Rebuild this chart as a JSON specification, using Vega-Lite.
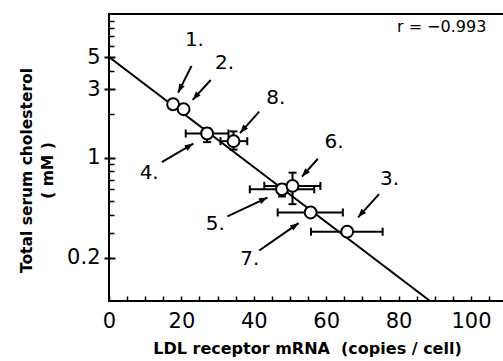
{
  "$schema": "https://vega.github.io/schema/vega-lite/v6.json",
  "width": 396,
  "height": 287,
  "autosize": {"type": "none"},
  "padding": {"left": 109, "top": 14, "right": 0, "bottom": 60},
  "background": "white",
  "config": {
    "view": {"stroke": "black", "strokeWidth": 2},
    "axis": {"domainColor": "black", "domainWidth": 2, "tickColor": "black", "tickWidth": 2, "labelColor": "black", "titleColor": "black", "labelFont": "DejaVu Sans", "titleFont": "DejaVu Sans", "grid": false}
  },
  "datasets": {
    "pts": [
      {"id": 1, "mrna": 17.7, "chol": 2.35},
      {"id": 2, "mrna": 20.6, "chol": 2.17},
      {"id": 3, "mrna": 65.8, "chol": 0.304},
      {"id": 4, "mrna": 27.1, "chol": 1.47},
      {"id": 5, "mrna": 47.8, "chol": 0.6},
      {"id": 6, "mrna": 50.7, "chol": 0.634},
      {"id": 7, "mrna": 55.7, "chol": 0.414},
      {"id": 8, "mrna": 34.4, "chol": 1.3}
    ],
    "xerr": [
      {"id": 3, "chol": 0.304, "lo": 55.8, "hi": 75.6},
      {"id": 4, "chol": 1.47, "lo": 21.2, "hi": 33.0},
      {"id": 5, "chol": 0.6, "lo": 38.9, "hi": 56.7},
      {"id": 6, "chol": 0.634, "lo": 42.9, "hi": 58.4},
      {"id": 7, "chol": 0.414, "lo": 46.6, "hi": 64.6},
      {"id": 8, "chol": 1.3, "lo": 30.8, "hi": 38.2}
    ],
    "yerr": [
      {"id": 4, "mrna": 27.1, "lo": 1.28, "hi": 1.6},
      {"id": 5, "mrna": 47.8, "lo": 0.535, "hi": 0.65},
      {"id": 6, "mrna": 50.7, "lo": 0.473, "hi": 0.784},
      {"id": 8, "mrna": 34.4, "lo": 1.135, "hi": 1.52}
    ],
    "fit": [
      {"x": 0, "y": 5.02},
      {"x": 88.7, "y": 0.1}
    ],
    "arrows": [
      {"id": 1, "x1": 22.8, "y1": 4.35, "x2": 19.1, "y2": 2.83, "dir": 206},
      {"id": 2, "x1": 28.1, "y1": 3.47, "x2": 23.1, "y2": 2.52, "dir": 221},
      {"id": 8, "x1": 41.5, "y1": 2.09, "x2": 36.2, "y2": 1.48, "dir": 221},
      {"id": 4, "x1": 14.6, "y1": 0.928, "x2": 23.3, "y2": 1.25, "dir": 59},
      {"id": 6, "x1": 57.7, "y1": 0.98, "x2": 53.3, "y2": 0.735, "dir": 221},
      {"id": 5, "x1": 32.7, "y1": 0.389, "x2": 43.8, "y2": 0.526, "dir": 65},
      {"id": 7, "x1": 41.5, "y1": 0.225, "x2": 52.4, "y2": 0.349, "dir": 55},
      {"id": 3, "x1": 74.6, "y1": 0.555, "x2": 68.8, "y2": 0.383, "dir": 222}
    ],
    "labels": [
      {"t": "1.", "x": 23.6, "y": 6.55},
      {"t": "2.", "x": 31.9, "y": 4.54},
      {"t": "8.", "x": 46.1, "y": 2.6},
      {"t": "6.", "x": 62.2, "y": 1.29},
      {"t": "3.", "x": 77.5, "y": 0.704},
      {"t": "4.", "x": 11.1, "y": 0.775},
      {"t": "5.", "x": 29.4, "y": 0.344},
      {"t": "7.", "x": 38.9, "y": 0.197}
    ],
    "note": [
      {"t": "r = −0.993", "x": 91.9, "y": 8.07}
    ]
  },
  "resolve": {"axis": {"x": "independent", "y": "independent"}},
  "layer": [
    {
      "data": {"name": "fit"},
      "mark": {"type": "line", "color": "black", "strokeWidth": 2, "clip": true},
      "encoding": {
        "x": {
          "field": "x", "type": "quantitative",
          "scale": {"domain": [0, 109.4], "nice": false, "zero": false},
          "axis": {
            "orient": "bottom",
            "offset": -5,
            "domain": false,
            "values": [0, 5, 10, 15, 20, 25, 30, 35, 40, 45, 50, 55, 60, 65, 70, 75, 80, 85, 90, 95, 100, 105],
            "tickSize": 5,
            "tickWidth": 1.5,
            "labelExpr": "datum.value % 20 === 0 ? datum.label : ''",
            "labelFontSize": 21,
            "labelPadding": 9,
            "labelFlush": false,
            "labelOverlap": false,
            "title": "LDL receptor mRNA\u00a0 (copies / cell)",
            "titleFontSize": 16,
            "titleFontWeight": "bold",
            "titlePadding": 9
          }
        },
        "y": {
          "field": "y", "type": "quantitative",
          "scale": {"type": "log", "domain": [0.1, 10], "nice": false},
          "axis": {
            "orient": "left",
            "offset": -6,
            "domain": false,
            "values": [0.2, 1, 3, 5],
            "format": "~g",
            "tickSize": 11,
            "labelFontSize": 21,
            "labelPadding": 4,
            "labelBaseline": "middle",
            "title": ["Total serum cholesterol", "( mM )"],
            "titleFontSize": 15.5,
            "titleFontWeight": "bold",
            "titleLineHeight": 21.5,
            "titleBaseline": "middle",
            "titleAlign": "center",
            "titleX": -89,
            "titleY": 156
          }
        }
      }
    },
    {
      "data": {"name": "xerr"},
      "mark": {"type": "rule", "color": "black", "strokeWidth": 2},
      "encoding": {
        "x": {"field": "lo", "type": "quantitative", "axis": null},
        "x2": {"field": "hi"},
        "y": {"field": "chol", "type": "quantitative", "axis": null}
      }
    },
    {
      "data": {"name": "xerr"},
      "mark": {"type": "tick", "orient": "vertical", "color": "black", "size": 8, "thickness": 2, "opacity": 1},
      "encoding": {
        "x": {"field": "lo", "type": "quantitative", "axis": null},
        "y": {"field": "chol", "type": "quantitative", "axis": null}
      }
    },
    {
      "data": {"name": "xerr"},
      "mark": {"type": "tick", "orient": "vertical", "color": "black", "size": 8, "thickness": 2, "opacity": 1},
      "encoding": {
        "x": {"field": "hi", "type": "quantitative", "axis": null},
        "y": {"field": "chol", "type": "quantitative", "axis": null}
      }
    },
    {
      "data": {"name": "yerr"},
      "mark": {"type": "rule", "color": "black", "strokeWidth": 2},
      "encoding": {
        "x": {"field": "mrna", "type": "quantitative", "axis": null},
        "y": {"field": "lo", "type": "quantitative", "axis": null},
        "y2": {"field": "hi"}
      }
    },
    {
      "data": {"name": "yerr"},
      "mark": {"type": "tick", "orient": "horizontal", "color": "black", "size": 8, "thickness": 2, "opacity": 1},
      "encoding": {
        "x": {"field": "mrna", "type": "quantitative", "axis": null},
        "y": {"field": "lo", "type": "quantitative", "axis": null}
      }
    },
    {
      "data": {"name": "yerr"},
      "mark": {"type": "tick", "orient": "horizontal", "color": "black", "size": 8, "thickness": 2, "opacity": 1},
      "encoding": {
        "x": {"field": "mrna", "type": "quantitative", "axis": null},
        "y": {"field": "hi", "type": "quantitative", "axis": null}
      }
    },
    {
      "data": {"name": "pts"},
      "mark": {"type": "point", "shape": "circle", "size": 140, "filled": false, "fill": "white", "fillOpacity": 1, "stroke": "black", "strokeWidth": 2, "opacity": 1},
      "encoding": {
        "x": {"field": "mrna", "type": "quantitative", "axis": null},
        "y": {
          "field": "chol", "type": "quantitative",
          "axis": {
            "orient": "left",
            "offset": -5,
            "values": [0.3, 0.4, 0.5, 0.6, 0.7, 0.8, 0.9, 2, 4, 6, 7, 8, 9],
            "tickSize": 5,
            "tickWidth": 1.5,
            "labels": false,
            "domain": false,
            "title": null
          }
        }
      }
    },
    {
      "data": {"name": "arrows"},
      "mark": {"type": "rule", "color": "black", "strokeWidth": 2},
      "encoding": {
        "x": {"field": "x1", "type": "quantitative", "axis": null},
        "y": {"field": "y1", "type": "quantitative", "axis": null},
        "x2": {"field": "x2"},
        "y2": {"field": "y2"}
      }
    },
    {
      "data": {"name": "arrows"},
      "mark": {"type": "point", "shape": "M0,0L-0.55,1.5L0.55,1.5Z", "size": 130, "filled": true, "color": "black", "opacity": 1, "strokeWidth": 0},
      "encoding": {
        "x": {"field": "x2", "type": "quantitative", "axis": null},
        "y": {"field": "y2", "type": "quantitative", "axis": null},
        "angle": {"field": "dir", "type": "quantitative", "scale": null}
      }
    },
    {
      "data": {"name": "labels"},
      "mark": {"type": "text", "font": "DejaVu Sans", "fontSize": 20, "color": "black", "align": "center", "baseline": "middle"},
      "encoding": {
        "x": {"field": "x", "type": "quantitative", "axis": null},
        "y": {"field": "y", "type": "quantitative", "axis": null},
        "text": {"field": "t"}
      }
    },
    {
      "data": {"name": "note"},
      "mark": {"type": "text", "font": "DejaVu Sans", "fontSize": 16, "color": "black", "align": "center", "baseline": "middle"},
      "encoding": {
        "x": {"field": "x", "type": "quantitative", "axis": null},
        "y": {"field": "y", "type": "quantitative", "axis": null},
        "text": {"field": "t"}
      }
    }
  ]
}
